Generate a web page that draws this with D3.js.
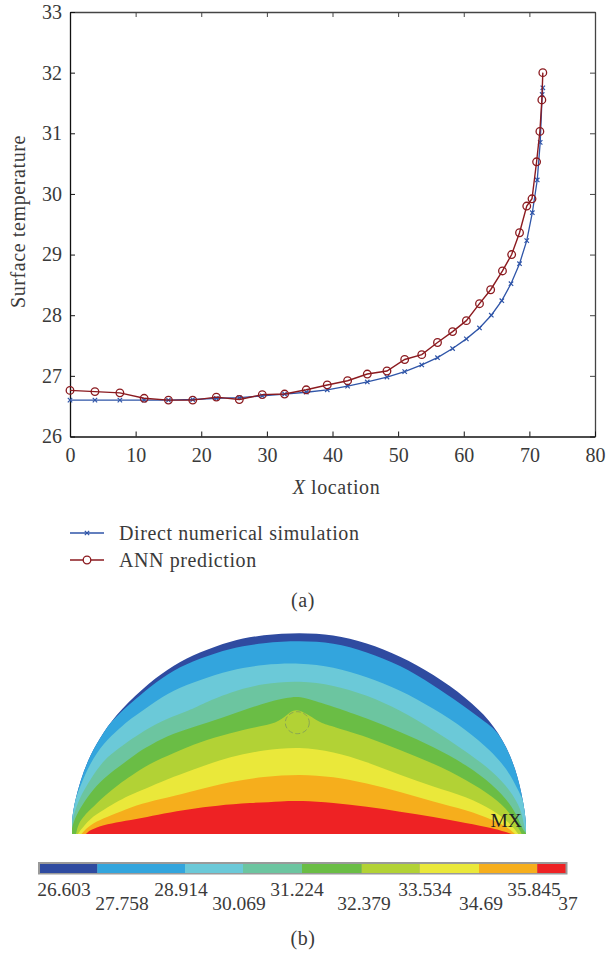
<!DOCTYPE html>
<html>
<head>
<meta charset="utf-8">
<script src="https://cdn.jsdelivr.net/npm/d3@7"></script>
<style>
	html, body { margin: 0; padding: 0; background: #fff; }
	svg { display: block; }
	text { font-family: "Liberation Serif", serif; fill: #3a3a3a; }
</style>
</head>
<body>
<div id="chart"></div>
<script>
// panel (a): surface temperature along X
const dnsX = [0, 3.8, 7.6, 11.3, 15, 18.7, 22.3, 25.8, 29.3, 32.7, 36, 39.2, 42.3, 45.3, 48.3, 51, 53.6, 56, 58.3, 60.4, 62.4, 64.2, 65.8, 67.2, 68.5, 69.6, 70.45, 71.2, 71.65, 71.95, 72.05];
const dnsY = [26.6, 26.6, 26.6, 26.6, 26.6, 26.61, 26.63, 26.64, 26.67, 26.7, 26.73, 26.77, 26.83, 26.9, 26.98, 27.07, 27.18, 27.3, 27.45, 27.61, 27.79, 28.0, 28.24, 28.52, 28.85, 29.23, 29.69, 30.23, 30.85, 31.64, 31.75];
const annX = [0, 3.8, 7.6, 11.3, 15, 18.7, 22.3, 25.8, 29.3, 32.7, 36, 39.2, 42.3, 45.3, 48.3, 51, 53.6, 56, 58.3, 60.4, 62.4, 64.1, 65.9, 67.3, 68.5, 69.6, 70.4, 71.1, 71.6, 71.9, 72.05];
const annY = [26.76, 26.74, 26.72, 26.63, 26.6, 26.6, 26.65, 26.61, 26.69, 26.7, 26.77, 26.85, 26.92, 27.03, 27.08, 27.27, 27.35, 27.55, 27.73, 27.91, 28.19, 28.42, 28.73, 29.0, 29.36, 29.8, 29.92, 30.53, 31.03, 31.55, 32];
const xTicks = [0, 10, 20, 30, 40, 50, 60, 70, 80];
const yTicks = [26, 27, 28, 29, 30, 31, 32, 33];

// panel (b): contour outline and band limits, [x, y] in mesh units
const outline = [[0,0],[0,12],[1,24],[8,53],[18,79],[31.3,102],[48,124],[78,152],[101.3,169],[128,182],[158,193],[191.3,199.5],[228,201.5],[261,199.5],[294.7,191.5],[328,178],[361.3,160],[394.7,136],[418,114],[434.7,88],[446.3,57],[452,28],[454,12],[454,0]];
const limit1 = [[-1,45],[22,86],[33,106],[48,121],[58,130],[78,147.3],[101.3,164],[128,175.7],[158,185.7],[191.3,191.3],[228,193.3],[261.3,191.3],[294.7,182.3],[328,169],[361.3,149],[388,130.7],[414.7,110.7],[430,100],[455,40]];
const limit2 = [[-1,20],[3,34],[8,47.3],[18,70.7],[31.3,90.7],[48,106],[58,114.7],[78,129],[101.3,144],[128,154],[158,164],[191.3,169.7],[228,171.3],[261.3,167.3],[294.7,157.3],[328,144],[361.3,125.7],[394.7,104],[418,84],[434.7,65.7],[446.3,44],[455,25]];
const limit3 = [[-1,0],[0.7,17.3],[8,37.3],[18,54],[31.3,74],[48,86.5],[58,94],[78,107.3],[101.3,118],[118,124],[128,129],[158,142],[191.3,150.7],[228,153.3],[261.3,149],[294.7,139],[328,124],[361.3,104],[394.7,82.3],[421.3,62.3],[438,44],[449.7,24],[452,7.3],[455,0]];
const limit4 = [[-1,0],[1.3,12.3],[8,25.7],[18,40.7],[31.3,55.7],[48,68],[58,75.5],[69.7,84],[78,89],[101.3,100.7],[128,109],[158,119],[191.3,130.7],[214.7,136.3],[228,138],[244.7,132.3],[261.3,127.3],[294.7,115.7],[328,102.3],[361.3,87.3],[394.7,69],[421.3,49],[438,30.7],[446.3,15.7],[450.7,4],[455,0]];
const limit5 = [[4,0],[6.3,10.7],[13,19],[18,24],[31.3,37.3],[48,50.7],[58,57.3],[78,70.7],[101.3,80.7],[128,92.3],[158,100.7],[184.7,107.3],[204.7,110.7],[214.7,119],[221.3,124],[228,124],[238,118],[248,111.3],[261.3,107.3],[294.7,97.3],[328,84],[361.3,70.7],[394.7,54],[421.3,37.3],[438,22.3],[449.7,0]];
const limit6 = [[6,0],[7.3,2.3],[18,15.7],[31.3,24],[48,34],[58,39],[78,47.3],[101.3,57.3],[128,67],[158,77.3],[191.3,84],[228,87.3],[261.3,82.3],[294.7,72.3],[328,59],[361.3,47.3],[394.7,37.3],[421.3,24],[438,10.7],[446.3,0]];
const limit7 = [[9.5,0],[11.3,2.3],[18,9],[31.3,15.7],[48,22.3],[69.7,30.7],[94.7,36],[124.7,44],[158,52.3],[191.3,57.3],[228,60],[261.3,57.3],[294.7,50.7],[328,42.3],[361.3,32.3],[394.7,24],[421.3,14],[434.7,7.3],[443,0]];
const limit8 = [[14,0],[18,4],[31.3,9],[48,12.3],[69.7,15.7],[91.3,20.7],[118,25],[144.7,28.5],[178,31],[211.3,32.8],[228,33.3],[261.3,31.3],[294.7,27.3],[328,22.3],[361.3,17.3],[394.7,10.7],[421.3,6],[439.7,0]];
const bandColors = ["#2f4ba0", "#33a5dd", "#6bc9d8", "#6cc5a0", "#6abd45", "#b2d235", "#eae83a", "#f6ae1c", "#ee2224"];
const colorbarValues = [26.603, 27.758, 28.914, 30.069, 31.224, 32.379, 33.534, 34.69, 35.845, 37];
const colorbarLabels = ["26.603", "27.758", "28.914", "30.069", "31.224", "32.379", "33.534", "34.69", "35.845", "37"];

let width = 608;
let height = 953;
let plot = { left: 70, right: 595, top: 12, bottom: 436.5 };

let svg = d3.select("#chart").append("svg")
	.attr("width", width)
	.attr("height", height);

let xScale = d3.scaleLinear().domain([0, 80]).range([plot.left, plot.right]);
let yScale = d3.scaleLinear().domain([26, 33]).range([plot.bottom, plot.top]);

// axes, ticks point inward on all four sides
function styleAxis(g, color) {
	g.selectAll("path").attr("stroke", color).attr("stroke-width", 1.3);
	g.selectAll("line").attr("stroke", color).attr("stroke-width", 1);
	g.selectAll("text").style("font-size", "20px").attr("fill", "#3a3a3a");
}

svg.append("g")
	.attr("transform", `translate(0,${plot.top})`)
	.call(d3.axisTop(xScale).tickValues(xTicks).tickSizeInner(-5).tickSizeOuter(0).tickFormat(""))
	.call(styleAxis, "#444");
svg.append("g")
	.attr("transform", `translate(${plot.right},0)`)
	.call(d3.axisRight(yScale).tickValues(yTicks).tickSizeInner(-5).tickSizeOuter(0).tickFormat(""))
	.call(styleAxis, "#444");
svg.append("g")
	.attr("transform", `translate(0,${plot.bottom})`)
	.call(d3.axisBottom(xScale).tickValues(xTicks).tickSizeInner(-5).tickSizeOuter(0).tickPadding(11.3).tickFormat(d3.format("d")))
	.call(styleAxis, "#111");
svg.append("g")
	.attr("transform", `translate(${plot.left},0)`)
	.call(d3.axisLeft(yScale).tickValues(yTicks).tickSizeInner(-5).tickSizeOuter(0).tickPadding(8).tickFormat(d3.format("d")))
	.call(styleAxis, "#111");

svg.append("text")
	.attr("transform", "translate(25,308) rotate(-90)")
	.style("font-size", "20px")
	.style("letter-spacing", "0.6px")
	.text("Surface temperature");

let xTitle = svg.append("text")
	.attr("x", 336.5)
	.attr("y", 494)
	.style("text-anchor", "middle")
	.style("font-size", "20px")
	.style("letter-spacing", "0.6px");
xTitle.append("tspan").style("font-style", "italic").text("X");
xTitle.append("tspan").text(" location");

// series
let line = d3.line().x(d => xScale(d[0])).y(d => yScale(d[1]));
let dns = d3.zip(dnsX, dnsY);
let ann = d3.zip(annX, annY);
const dnsColor = "#2f55a8";
const annColor = "#8b1a1f";

function crossPath(s) {
	return `M${-s},${-s}L${s},${s}M${-s},${s}L${s},${-s}`;
}

svg.append("path").datum(dns)
	.attr("fill", "none").attr("stroke", dnsColor).attr("stroke-width", 1.3)
	.attr("d", line);
svg.append("g").selectAll("path").data(dns).enter().append("path")
	.attr("transform", d => `translate(${xScale(d[0])},${yScale(d[1])})`)
	.attr("d", crossPath(2.2))
	.attr("fill", "none").attr("stroke", dnsColor).attr("stroke-width", 1.2);

svg.append("path").datum(ann)
	.attr("fill", "none").attr("stroke", annColor).attr("stroke-width", 1.4)
	.attr("d", line);
svg.append("g").selectAll("circle").data(ann).enter().append("circle")
	.attr("cx", d => xScale(d[0]))
	.attr("cy", d => yScale(d[1]))
	.attr("r", 3.8)
	.attr("fill", "none").attr("stroke", annColor).attr("stroke-width", 1.3);

// legend
let legendItems = [
	{ label: "Direct numerical simulation", color: dnsColor, y: 533 },
	{ label: "ANN prediction", color: annColor, y: 560 }
];
let legend = svg.append("g").selectAll("g").data(legendItems).enter().append("g")
	.attr("transform", d => `translate(0,${d.y})`);
legend.append("line")
	.attr("x1", 70).attr("x2", 104)
	.attr("stroke", d => d.color).attr("stroke-width", 1.3);
legend.filter((d, i) => i === 0).append("path")
	.attr("transform", "translate(87,0)")
	.attr("d", crossPath(2.2))
	.attr("fill", "none").attr("stroke", dnsColor).attr("stroke-width", 1.2);
legend.filter((d, i) => i === 1).append("circle")
	.attr("cx", 87).attr("r", 3.8)
	.attr("fill", "#fff").attr("stroke", annColor).attr("stroke-width", 1.3);
legend.append("text")
	.attr("x", 119).attr("y", 7)
	.style("font-size", "20px")
	.style("letter-spacing", "0.6px")
	.text(d => d.label);

svg.append("text").attr("x", 303).attr("y", 607)
	.style("text-anchor", "middle").style("font-size", "20px").style("letter-spacing", "0.6px").text("(a)");

// contour panel, painted from the coolest band up to the hottest
let meshX = d3.scaleLinear().domain([0, 454]).range([72, 526]);
let meshY = d3.scaleLinear().domain([0, 201]).range([834, 633]);

svg.append("clipPath").attr("id", "mesh-clip").append("path")
	.datum(outline)
	.attr("d", d3.line().x(d => meshX(d[0])).y(d => meshY(d[1])).curve(d3.curveBasis));

let contour = svg.append("g").attr("clip-path", "url(#mesh-clip)");
let bandArea = d3.area()
	.x(d => meshX(d[0]))
	.y0(meshY(0))
	.y1(d => meshY(d[1]))
	.curve(d3.curveBasis);

contour.append("rect")
	.attr("x", meshX(-2)).attr("y", meshY(203))
	.attr("width", meshX(456) - meshX(-2)).attr("height", meshY(0) - meshY(203))
	.attr("fill", bandColors[0]);
[limit1, limit2, limit3, limit4, limit5, limit6, limit7, limit8].forEach((limit, i) => {
	contour.append("path").datum(limit)
		.attr("fill", bandColors[i + 1])
		.attr("d", bandArea);
});

svg.append("ellipse")
	.attr("cx", meshX(225.3)).attr("cy", meshY(111.3))
	.attr("rx", 12).attr("ry", 11)
	.attr("fill", "none").attr("stroke", "#7d9a5a").attr("stroke-width", 0.8)
	.attr("stroke-dasharray", "5 2.5");

svg.append("text").attr("x", 490.5).attr("y", 827)
	.style("font-size", "19.5px").style("fill", "#222").text("MX");

// colorbar
const barEdges = [40, 97.3, 185, 243, 302, 361.7, 419.7, 479, 537.3, 565.5];
svg.append("rect")
	.attr("x", 38).attr("y", 862).attr("width", 529.5).attr("height", 12.5)
	.attr("fill", "#9a9a9a");
svg.append("g").selectAll("rect").data(bandColors).enter().append("rect")
	.attr("x", (d, i) => barEdges[i])
	.attr("y", 864)
	.attr("width", (d, i) => barEdges[i + 1] - barEdges[i])
	.attr("height", 9)
	.attr("fill", d => d);

const labelCenters = [64, 122, 181, 239, 297, 364, 425, 481, 534, 568];
const labelRows = [896, 910];
let labelScale = d3.scaleLinear().domain(colorbarValues).range(labelCenters);
svg.append("g").selectAll("text").data(colorbarValues).enter().append("text")
	.attr("x", d => labelScale(d))
	.attr("y", (d, i) => labelRows[i % 2])
	.style("text-anchor", "middle")
	.style("font-size", "19.5px")
	.text((d, i) => colorbarLabels[i]);

svg.append("text").attr("x", 303).attr("y", 945)
	.style("text-anchor", "middle").style("font-size", "20px").style("letter-spacing", "0.6px").text("(b)");
</script>
</body>
</html>
